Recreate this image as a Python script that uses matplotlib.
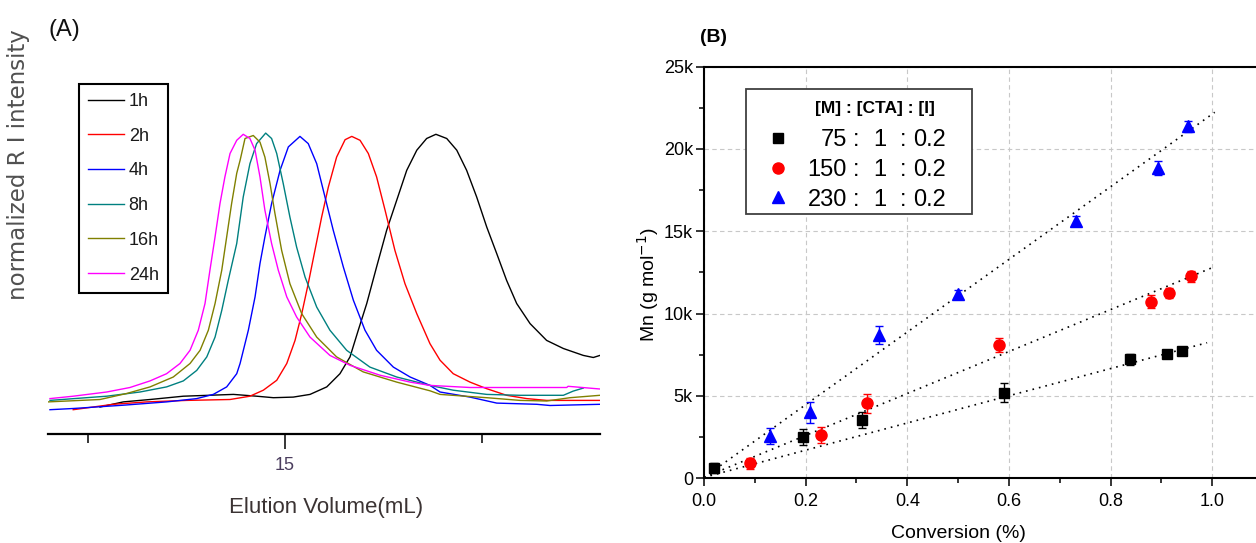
import matplotlib
matplotlib.use("Agg")
import matplotlib.pyplot as plt
from matplotlib.lines import Line2D
from matplotlib.patches import Rectangle
from matplotlib.ticker import FuncFormatter, MultipleLocator

# ---- Panel A : GPC traces (elution volume in mL, normalized RI) ----
t1h_x = [14.061, 14.179, 14.315, 14.484, 14.738, 14.856, 14.941, 15.042, 15.127, 15.212,
         15.279, 15.330, 15.372, 15.415, 15.465, 15.516, 15.567, 15.618, 15.669, 15.719,
         15.766, 15.821, 15.872, 15.922, 15.973, 16.024, 16.075, 16.125, 16.176, 16.244,
         16.328, 16.413, 16.514, 16.565, 16.599]
t1h_y = [0.091, 0.108, 0.116, 0.127, 0.133, 0.127, 0.122, 0.124, 0.133, 0.158,
         0.202, 0.258, 0.347, 0.436, 0.558, 0.680, 0.780, 0.880, 0.947, 0.986,
         1.000, 0.986, 0.947, 0.880, 0.791, 0.691, 0.602, 0.513, 0.436, 0.369,
         0.313, 0.286, 0.263, 0.256, 0.263]

t2h_x = [13.925, 14.128, 14.298, 14.501, 14.721, 14.822, 14.890, 14.958, 15.009, 15.051,
         15.085, 15.118, 15.152, 15.186, 15.220, 15.262, 15.305, 15.339, 15.381, 15.423,
         15.465, 15.508, 15.558, 15.609, 15.669, 15.736, 15.787, 15.854, 15.939, 16.024,
         16.125, 16.227, 16.328, 16.599]
t2h_y = [0.082, 0.100, 0.108, 0.113, 0.116, 0.127, 0.147, 0.180, 0.236, 0.313,
         0.402, 0.502, 0.613, 0.724, 0.824, 0.924, 0.982, 0.993, 0.980, 0.936,
         0.858, 0.747, 0.613, 0.502, 0.402, 0.302, 0.247, 0.202, 0.174, 0.152,
         0.130, 0.119, 0.113, 0.113]

t4h_x = [13.807, 13.925, 14.179, 14.399, 14.552, 14.636, 14.704, 14.755, 14.772, 14.814,
         14.848, 14.873, 14.898, 14.932, 14.975, 15.017, 15.076, 15.118, 15.161, 15.203,
         15.245, 15.296, 15.347, 15.406, 15.465, 15.550, 15.635, 15.736, 15.787, 15.939,
         16.075, 16.278, 16.345, 16.599]
t4h_y = [0.082, 0.086, 0.097, 0.108, 0.119, 0.133, 0.158, 0.202, 0.236, 0.347,
         0.458, 0.569, 0.658, 0.769, 0.880, 0.958, 0.993, 0.969, 0.902, 0.791,
         0.680, 0.558, 0.447, 0.347, 0.280, 0.224, 0.191, 0.163, 0.141, 0.124,
         0.104, 0.100, 0.096, 0.100]

t8h_x = [13.807, 14.095, 14.264, 14.399, 14.484, 14.552, 14.603, 14.645, 14.679, 14.712,
         14.755, 14.788, 14.822, 14.856, 14.902, 14.932, 14.958, 14.991, 15.025, 15.059,
         15.102, 15.161, 15.228, 15.313, 15.431, 15.567, 15.736, 15.854, 16.024, 16.193,
         16.413, 16.463, 16.514]
t8h_y = [0.113, 0.127, 0.141, 0.158, 0.178, 0.213, 0.258, 0.324, 0.413, 0.513,
         0.636, 0.791, 0.902, 0.969, 1.004, 0.986, 0.936, 0.836, 0.724, 0.624,
         0.524, 0.424, 0.347, 0.280, 0.224, 0.191, 0.163, 0.147, 0.133, 0.130,
         0.130, 0.144, 0.154]

t16h_x = [13.797, 14.061, 14.196, 14.315, 14.433, 14.518, 14.569, 14.611, 14.645, 14.679,
          14.704, 14.729, 14.755, 14.772, 14.797, 14.839, 14.873, 14.898, 14.924, 14.949,
          14.983, 15.025, 15.085, 15.161, 15.262, 15.397, 15.567, 15.736, 15.787, 16.024,
          16.193, 16.328, 16.447, 16.599]
t16h_y = [0.108, 0.116, 0.136, 0.158, 0.191, 0.236, 0.280, 0.347, 0.436, 0.547,
          0.658, 0.769, 0.870, 0.913, 0.986, 0.996, 0.974, 0.924, 0.836, 0.736,
          0.613, 0.502, 0.402, 0.324, 0.258, 0.208, 0.174, 0.145, 0.133, 0.122,
          0.113, 0.111, 0.122, 0.130]

t24h_x = [13.807, 13.925, 14.095, 14.213, 14.315, 14.399, 14.467, 14.518, 14.560, 14.594,
          14.619, 14.645, 14.670, 14.695, 14.721, 14.755, 14.788, 14.822, 14.848, 14.873,
          14.898, 14.932, 14.966, 15.009, 15.059, 15.127, 15.228, 15.330, 15.482, 15.635,
          15.736, 15.939, 16.430, 16.437, 16.599]
t24h_y = [0.119, 0.127, 0.141, 0.156, 0.178, 0.202, 0.236, 0.280, 0.347, 0.436,
          0.547, 0.658, 0.769, 0.858, 0.936, 0.980, 1.000, 0.986, 0.947, 0.858,
          0.747, 0.636, 0.547, 0.458, 0.391, 0.324, 0.263, 0.230, 0.197, 0.174,
          0.163, 0.156, 0.156, 0.160, 0.151]

trace_labels = ["1h", "2h", "4h", "8h", "16h", "24h"]
trace_colors = ["#000000", "#ff0000", "#0000ff", "#008080", "#808000", "#ff00ff"]

# ---- Panel B : Mn vs conversion ----
ratio_labels = ["75", "150", "230"]
conv_75 = [0.02, 0.195, 0.31, 0.59, 0.838, 0.912, 0.94]
mn_75 = [600, 2480, 3530, 5200, 7220, 7540, 7700]
err_75 = [300, 480, 500, 560, 320, 200, 150]
conv_150 = [0.09, 0.23, 0.32, 0.58, 0.88, 0.915, 0.958]
mn_150 = [900, 2620, 4550, 8070, 10720, 11250, 12280]
err_150 = [330, 480, 560, 430, 380, 320, 330]
conv_230 = [0.129, 0.209, 0.345, 0.50, 0.732, 0.893, 0.953]
mn_230 = [2550, 4000, 8700, 11200, 15650, 18850, 21380]
err_230 = [500, 650, 530, 230, 300, 450, 320]
# dotted linear fits (end points)
fit_75_x = [0.0, 0.99]
fit_75_y = [50, 8230]
fit_150_x = [0.0, 1.0]
fit_150_y = [50, 12790]
fit_230_x = [0.0, 1.005]
fit_230_y = [50, 22230]

W, H = 1256, 543
ARIAL = ["Liberation Sans", "DejaVu Sans"]

fig = plt.figure(figsize=(W / 100, H / 100), dpi=100)

# ================= Panel A =================
axA = fig.add_axes([48 / W, 1 - 434.3 / H, 552 / W, 434.3 / H])
traces = [(t1h_x, t1h_y), (t2h_x, t2h_y), (t4h_x, t4h_y),
          (t8h_x, t8h_y), (t16h_x, t16h_y), (t24h_x, t24h_y)]
for (xs, ys), lab, col in zip(traces, trace_labels, trace_colors):
    axA.plot(xs, ys, color=col, lw=1.0, label=lab)

axA.set_xlim(13.797, 16.599)
axA.set_ylim(0, 434.3 / 300)
for s in ["top", "right", "left"]:
    axA.spines[s].set_visible(False)
axA.spines["bottom"].set_linewidth(1.6)
axA.set_yticks([])
axA.set_xticks([15])
axA.set_xticks([14, 16], minor=True)
axA.tick_params(axis="x", which="major", direction="out", length=10.5, width=1.1, pad=6,
                labelsize=13, labelcolor="#4b3d5e")
axA.tick_params(axis="x", which="minor", direction="out", length=6.5, width=1.1)
for t in axA.get_xticklabels():
    t.set_family(ARIAL)
axA.set_xlabel("Elution Volume(mL)", fontsize=16, family=ARIAL, color="#3b3333")
axA.xaxis.set_label_coords((326 - 48) / 552, -(508 - 434.3) / 434.3)
axA.xaxis.label.set_va("center")

legA = axA.legend(loc="upper left", bbox_to_anchor=(79 / W, 1 - 84 / H),
                  bbox_transform=fig.transFigure, borderaxespad=0, fancybox=False,
                  edgecolor="black", framealpha=1, prop={"family": ARIAL, "size": 13},
                  handlelength=2.0, handletextpad=0.25, labelspacing=0.98, borderpad=0.5)
legA.get_frame().set_linewidth(1.5)
for t in legA.get_texts():
    t.set_color("#1a1a1a")

fig.text(19 / W, 1 - 165 / H, "normalized R I intensity", rotation=90, ha="center",
         va="center", fontsize=16.5, color="#505050", family="DejaVu Sans")
fig.text(49 / W, 1 - 30 / H, "(A)", fontsize=17, ha="left", va="center",
         family=ARIAL, color="#111111")

# ================= Panel B =================
axB = fig.add_axes([704 / W, 1 - 478.2 / H, 559 / W, 411.5 / H])
axB.set_axisbelow(True)
axB.grid(True, which="major", ls=(0, (4, 3)), color="#c8c8c8", lw=0.8)

axB.plot(fit_75_x, fit_75_y, color="black", ls=(0, (1, 3)), lw=1.2)
axB.plot(fit_150_x, fit_150_y, color="black", ls=(0, (1, 3)), lw=1.2)
axB.plot(fit_230_x, fit_230_y, color="black", ls=(0, (1, 3)), lw=1.2)

axB.errorbar(conv_75, mn_75, yerr=err_75, fmt="s", color="black", ms=7,
             capsize=2.8, elinewidth=1, capthick=1)
axB.errorbar(conv_150, mn_150, yerr=err_150, fmt="o", color="#ff0000", ms=8,
             capsize=2.8, elinewidth=1, capthick=1)
axB.errorbar(conv_230, mn_230, yerr=err_230, fmt="^", color="#0000ff", ms=8.5,
             capsize=2.8, elinewidth=1, capthick=1)

axB.set_xlim(0, 1.1)
axB.set_ylim(0, 25000)
axB.xaxis.set_major_locator(MultipleLocator(0.2))
axB.xaxis.set_minor_locator(MultipleLocator(0.1))
axB.yaxis.set_major_locator(MultipleLocator(5000))
axB.yaxis.set_minor_locator(MultipleLocator(2500))
axB.xaxis.set_major_formatter(FuncFormatter(lambda v, p: f"{v:.1f}"))
axB.yaxis.set_major_formatter(FuncFormatter(lambda v, p: "0" if v == 0 else f"{int(v / 1000)}k"))
axB.tick_params(which="major", direction="out", length=6, width=1.1, labelsize=13)
axB.tick_params(which="minor", direction="out", length=3.5, width=1.1)
axB.tick_params(axis="x", pad=5)
axB.tick_params(axis="y", pad=2)
for t in axB.get_xticklabels() + axB.get_yticklabels():
    t.set_family(ARIAL)
for s in axB.spines.values():
    s.set_linewidth(1.5)

axB.set_xlabel("Conversion (%)", fontsize=14, family=ARIAL)
axB.xaxis.set_label_coords((958 - 704) / 559, -(533 - 478.2) / 411.5)
axB.xaxis.label.set_va("center")
axB.set_ylabel("Mn (g mol$^{-1}$)", fontsize=14, family=ARIAL)
axB.yaxis.set_label_coords((648 - 704) / 559, (478.2 - 285) / 411.5)
axB.yaxis.label.set_va("center")

fig.text(700 / W, 1 - 38 / H, "(B)", fontsize=14, fontweight="bold", ha="left",
         va="center", family=ARIAL)

# legend of panel B, drawn by hand to keep the column alignment
fig.add_artist(Rectangle((745.7 / W, 1 - 213.7 / H), 226 / W, 124.4 / H,
                         transform=fig.transFigure, facecolor="white",
                         edgecolor="#404040", lw=1.3, zorder=5))
fig.text(875.3 / W, 1 - 108.3 / H, "[M] : [CTA] : [I]", fontsize=12.5, fontweight="bold",
         ha="center", va="center", family=ARIAL, zorder=6)
leg_markers = [("s", "black", 7), ("o", "#ff0000", 8), ("^", "#0000ff", 8.5)]
row_y = [140, 170, 200]
mark_y = [137.7, 168, 196.7]
for lab, (mk, col, ms), ry, my in zip(ratio_labels, leg_markers, row_y, mark_y):
    fig.add_artist(Line2D([778.3 / W], [1 - my / H], marker=mk, color=col, ms=ms,
                          ls="none", transform=fig.transFigure, zorder=6))
    fig.text(847 / W, 1 - ry / H, lab, fontsize=17, ha="right", va="center",
             family=ARIAL, zorder=6)
    fig.text(856 / W, 1 - ry / H, ":", fontsize=17, ha="center", va="center",
             family=ARIAL, zorder=6)
    fig.text(880 / W, 1 - ry / H, "1", fontsize=17, ha="center", va="center",
             family=ARIAL, zorder=6)
    fig.text(903 / W, 1 - ry / H, ":", fontsize=17, ha="center", va="center",
             family=ARIAL, zorder=6)
    fig.text(913 / W, 1 - ry / H, "0.2", fontsize=17, ha="left", va="center",
             family=ARIAL, zorder=6)

fig.savefig("out.png", dpi=100)
